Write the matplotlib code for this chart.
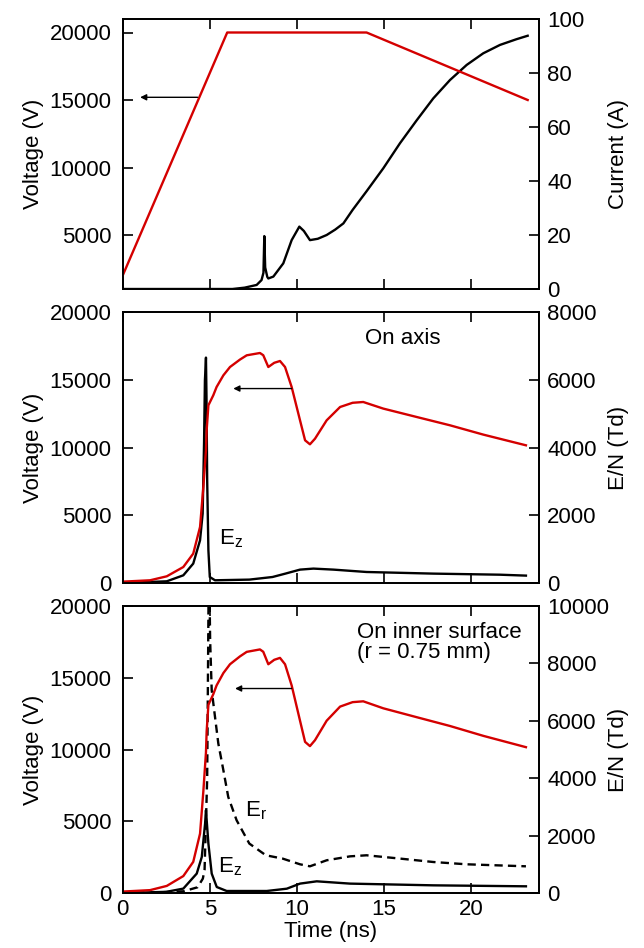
#!/usr/bin/env python3
import matplotlib
matplotlib.use('Agg')
import matplotlib.pyplot as plt

plt.rcParams['font.family'] = ['Liberation Sans', 'DejaVu Sans']
plt.rcParams['font.size'] = 16
plt.rcParams['mathtext.fontset'] = 'custom'
plt.rcParams['mathtext.rm'] = 'Liberation Sans'

RED = '#d40000'

# ---- top panel: applied voltage and current
t_applied = [0, 6.0, 14.0, 23.25]
v_applied = [2000, 20000, 20000, 15000]

t_current = [0, 6.3, 7.0, 7.69, 7.97, 8.08, 8.13, 8.18, 8.3, 8.36, 8.65, 9.22, 9.7, 10.14,
             10.4, 10.75, 11.2, 11.71, 12.2, 12.67, 13.2, 14.0, 14.96, 15.92, 16.88,
             17.83, 18.79, 19.75, 20.7, 21.66, 22.6, 23.25]
i_current = [0, 0, 0.5, 1.5, 3.3, 6, 19.6, 8, 4.5, 3.9, 4.6, 9.5, 18.1, 23.1,
             21.5, 18.1, 18.6, 20.0, 22.0, 24.3, 29.3, 36.2, 44.7, 54.0, 62.5,
             70.6, 77.4, 83.0, 87.3, 90.4, 92.5, 93.8]

# ---- voltage at the probe point (middle and bottom panels)
t_volt = [0, 1.57, 2.53, 3.48, 4.05, 4.44, 4.63, 4.78, 4.82, 4.92, 5.2, 5.39, 5.78, 6.16,
          6.73, 7.12, 7.88, 8.07, 8.36, 8.7, 9.03, 9.32, 9.7, 10.18, 10.47, 10.75,
          11.04, 11.71, 12.48, 13.2, 13.81, 14.96, 16.88, 18.79, 20.7, 23.15]
v_volt = [100, 200, 494, 1180, 2170, 4133, 7085, 9793, 11269, 13114, 13852, 14465, 15328,
          15941, 16487, 16804, 16974, 16810, 15941, 16250, 16384, 15941, 14465, 12007,
          10531, 10236, 10650, 12007, 12989, 13300, 13358, 12871, 12251, 11638, 10952,
          10162]

# ---- E/N on axis (middle panel)
t_ez_axis = [0, 2.53, 3.48, 4.05, 4.44, 4.59, 4.67, 4.72, 4.76, 4.78, 4.81, 4.85, 4.92,
             5.0, 5.3, 7.27, 8.6, 9.34, 10.18, 10.95, 12.1, 14.0, 17.83, 21.66, 23.15]
e_ez_axis = [0, 50, 227, 573, 1260, 2049, 4115, 5984, 6400, 6654, 5500, 3032, 965,
             177, 80, 100, 177, 277, 395, 425, 395, 325, 277, 245, 218]

# ---- E/N on inner surface (bottom panel)
t_ez_surf = [0, 2.5, 3.48, 4.25, 4.54, 4.73, 4.78, 4.85, 4.92, 5.11, 5.4, 5.97, 8.27,
             9.42, 10.18, 11.14, 13.05, 17.83, 23.15]
e_ez_surf = [0, 40, 153, 676, 1255, 2419, 2882, 2300, 1722, 676, 209, 70, 70,
             150, 327, 407, 327, 267, 233]

t_er_surf = [0, 2.0, 3.5, 4.3, 4.6, 4.7, 4.85, 4.95, 5.02, 5.11, 5.3, 5.49, 5.78, 6.06,
             6.54, 7.27, 8.22, 9.18, 10.18, 10.75, 11.71, 13.05, 14.0, 15.92, 17.83,
             19.75, 23.15]
e_er_surf = [0, 20, 60, 200, 500, 800, 4000, 12000, 8800, 7065, 6134, 5207, 4276, 3346,
             2534, 1722, 1314, 1199, 1000, 930, 1140, 1277, 1314, 1199, 1080,
             1000, 930]

W, H = 644, 948
fig = plt.figure(figsize=(W / 100, H / 100), dpi=100)

def make_axes(top_px, bot_px):
    left, right = 122.7, 539.0
    return fig.add_axes([left / W, 1 - bot_px / H, (right - left) / W, (bot_px - top_px) / H])

def style(ax, tw, show_x):
    for a in (ax, tw):
        for s in a.spines.values():
            s.set_linewidth(1.3)
    ax.tick_params(axis='both', direction='in', length=7, width=1.2, top=True, right=False)
    ax.tick_params(axis='y', pad=8)
    ax.tick_params(axis='x', pad=4, labelbottom=show_x)
    tw.tick_params(axis='y', direction='in', length=7, width=1.2, pad=6)
    ax.set_xlim(0, 23.9)
    ax.set_xticks([0, 5, 10, 15, 20])
    ax.set_zorder(tw.get_zorder() + 1)
    ax.patch.set_visible(False)
    ax.yaxis.set_label_coords(-0.188, 0.5)
    tw.yaxis.set_label_coords(1.165, 0.5)

arrow = dict(arrowstyle='-|>', lw=1.0, color='black', mutation_scale=9, shrinkA=0, shrinkB=0)

# top
ax1 = make_axes(19, 289)
tw1 = ax1.twinx()
ax1.plot(t_applied, v_applied, color=RED, lw=1.7)
tw1.plot(t_current, i_current, color='black', lw=1.7)
ax1.set_ylim(1000, 21000)
ax1.set_yticks([5000, 10000, 15000, 20000])
tw1.set_ylim(0, 100)
tw1.set_yticks([0, 20, 40, 60, 80, 100])
ax1.set_ylabel('Voltage (V)')
tw1.set_ylabel('Current (A)')
ax1.annotate('', xy=(1.0, 15200), xytext=(4.3, 15200), arrowprops=arrow)
style(ax1, tw1, False)

# middle
ax2 = make_axes(312, 583)
tw2 = ax2.twinx()
ax2.plot(t_volt, v_volt, color=RED, lw=1.7)
tw2.plot(t_ez_axis, e_ez_axis, color='black', lw=1.7)
ax2.set_ylim(0, 20000)
ax2.set_yticks([0, 5000, 10000, 15000, 20000])
tw2.set_ylim(0, 8000)
tw2.set_yticks([0, 2000, 4000, 6000, 8000])
ax2.set_ylabel('Voltage (V)')
tw2.set_ylabel('E/N (Td)')
ax2.annotate('', xy=(6.35, 14350), xytext=(9.7, 14350), arrowprops=arrow)
ax2.text(16.1, 18060, 'On axis', ha='center', va='center')
ax2.text(5.55, 3277, r'E$_\mathregular{z}$', ha='left', va='center')
style(ax2, tw2, False)

# bottom
ax3 = make_axes(606, 893)
tw3 = ax3.twinx()
ax3.plot(t_volt, v_volt, color=RED, lw=1.7)
tw3.plot(t_ez_surf, e_ez_surf, color='black', lw=1.7)
tw3.plot(t_er_surf, e_er_surf, color='black', lw=1.7, dashes=(3.5, 2.2))
ax3.set_ylim(0, 20000)
ax3.set_yticks([0, 5000, 10000, 15000, 20000])
tw3.set_ylim(0, 10000)
tw3.set_yticks([0, 2000, 4000, 6000, 8000, 10000])
ax3.set_ylabel('Voltage (V)')
tw3.set_ylabel('E/N (Td)')
ax3.set_xlabel('Time (ns)', labelpad=1)
ax3.annotate('', xy=(6.45, 14250), xytext=(9.7, 14250), arrowprops=arrow)
ax3.text(13.43, 17450, 'On inner surface\n(r = 0.75 mm)', ha='left', va='center',
         linespacing=0.95)
ax3.text(7.02, 5765, r'E$_\mathregular{r}$', ha='left', va='center')
ax3.text(5.49, 1812, r'E$_\mathregular{z}$', ha='left', va='center')
style(ax3, tw3, True)

fig.savefig('out.png', dpi=100)
plt.close('all')
